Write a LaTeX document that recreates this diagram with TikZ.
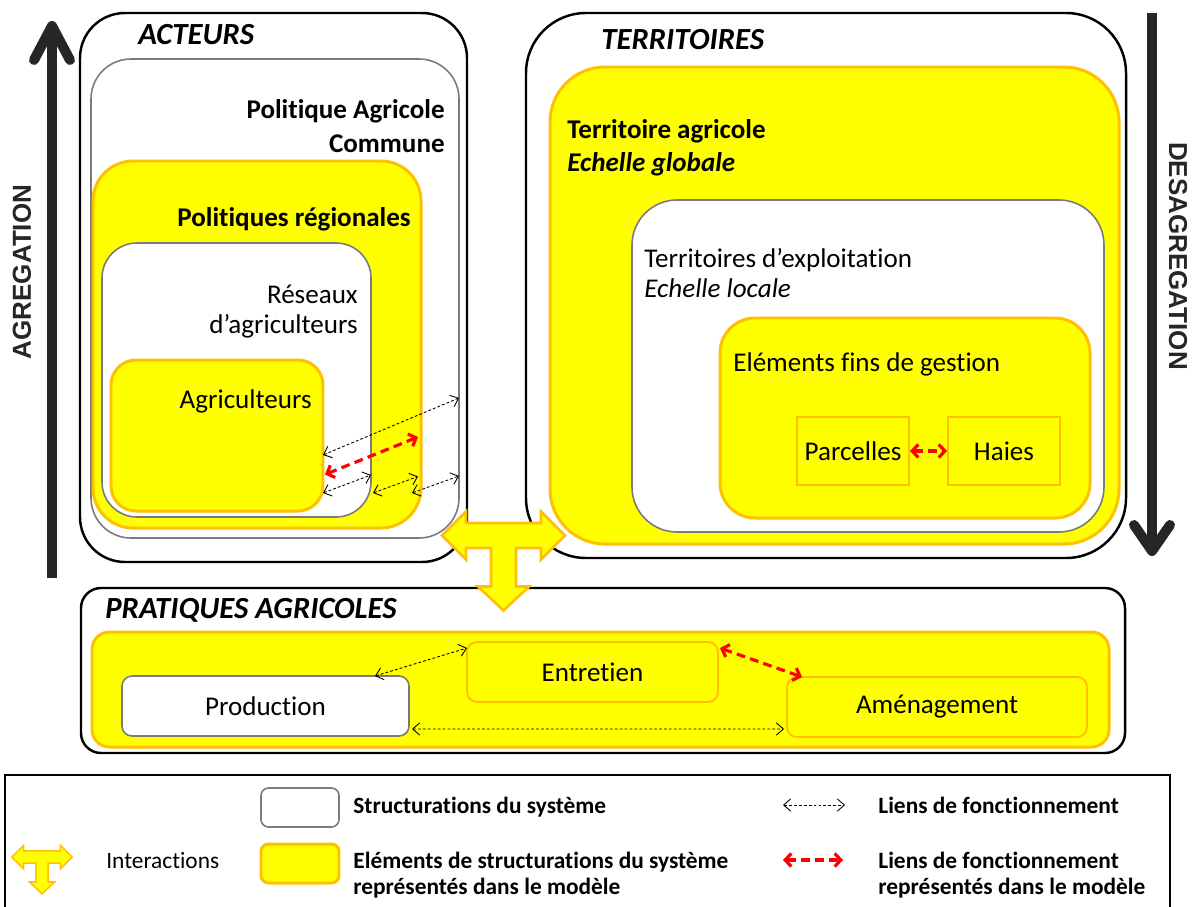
\documentclass[tikz,border=0pt]{standalone}
\usepackage{fontspec}
\setmainfont{Carlito}[Ligatures=NoCommon]
\newfontfamily\arialf{Liberation Sans}
\usetikzlibrary{arrows.meta,calc}
\definecolor{yel}{HTML}{FFFF00}
\definecolor{ora}{HTML}{FFC000}
\definecolor{grb}{HTML}{7A7A7A}
\definecolor{dkar}{HTML}{262626}
\tikzset{
 wh/.style 2 args={minimum width=#1*0.02cm, minimum height=#2*0.02cm, inner sep=0pt, outer sep=0pt},
 blackbox/.style={draw=black, line width=1.4pt, fill=white},
 graybox/.style={draw=grb, line width=0.9pt, fill=white},
 yelbox/.style={draw=ora, line width=1.7pt, fill=yel},
 yelthin/.style={draw=ora, line width=1.1pt, fill=yel},
 lnk/.style={dash pattern=on 1.6pt off 1.2pt, line width=0.5pt, {Straight Barb[length=4pt,width=7pt]}-{Straight Barb[length=4pt,width=7pt]}},
 lnkred/.style={draw=red, line width=1.8pt, dash pattern=on 5pt off 3pt, {Straight Barb[length=3.5pt,width=7.5pt]}-{Straight Barb[length=3.5pt,width=7.5pt]}},
 bigar/.style={draw=dkar, line width=0.2cm},
 rt/.style={inner sep=0pt, font=\fontsize{15.4}{17}\selectfont},
 bt/.style={inner sep=0pt, font=\fontsize{15.4}{19}\selectfont\bfseries},
 ttl/.style={inner sep=0pt, font=\fontsize{17.5}{21}\selectfont\bfseries\itshape},
 lb/.style={inner sep=0pt, font=\fontsize{13.3}{14.6}\selectfont\bfseries},
 lr/.style={inner sep=0pt, font=\fontsize{13.3}{14.6}\selectfont},
 vlab/.style={inner sep=0pt, text=dkar, font=\arialf\bfseries\fontsize{14.8}{16}\selectfont},
 tee/.pic={\path[fill=yel, draw=ora, line join=miter]
   (-61.5,0) -- (-37.5,-24) -- (-37.5,-12.5) -- (37.5,-12.5) -- (37.5,-24) -- (61.5,0)
   -- (37.5,24) -- (37.5,12.5) -- (12.5,12.5) -- (12.5,51) -- (25.5,51) -- (0,75)
   -- (-25.5,51) -- (-12.5,51) -- (-12.5,12.5) -- (-37.5,12.5) -- (-37.5,24) -- cycle;}
}
\begin{document}
\begin{tikzpicture}[x=0.02cm,y=-0.02cm]
\useasboundingbox (0,0) rectangle (1192,906);
\clip (0,0) rectangle (1192,906);
% vertical arrows
\coordinate (agB) at (52,578); \coordinate (agT) at (52,26);
\draw[bigar] (agB) -- (agT);
\draw[bigar, line cap=round, line join=round] (34,60) -- (agT) -- (70,60);
\coordinate (dsT) at (1152,13); \coordinate (dsB) at (1152,551);
\draw[bigar] (dsT) -- (dsB);
\draw[bigar, line cap=round, line join=round] (1134,525) -- (dsB) -- (1170,525);
\node[vlab, rotate=90] (tagr) at (22,272) {AGREGATION};
\node[vlab, rotate=-90] (tdes) at (1178,256) {DESAGREGATION};
% ACTEURS
\node[blackbox, wh={387}{549}, rounded corners=0.9cm] (acteurs) at (273.5,287.5) {};
\node[graybox, wh={368}{479}, rounded corners=0.8cm] (pac) at (275,298.5) {};
\node[yelbox, wh={328}{367}, rounded corners=0.8cm] (preg) at (257,344.5) {};
\node[graybox, wh={269}{274}, rounded corners=0.7cm] (res) at (236.5,380) {};
\node[yelbox, wh={212}{151}, rounded corners=0.5cm] (agri) at (217,435.5) {};
% TERRITOIRES
\node[blackbox, wh={600}{545}, rounded corners=1.2cm] (terr) at (826,285.5) {};
\node[yelbox, wh={569}{477}, rounded corners=1.1cm] (tagri) at (834.5,305.5) {};
\node[graybox, wh={472}{332}, rounded corners=0.9cm] (texp) at (868,366) {};
\node[yelbox, wh={370}{200}, rounded corners=0.7cm] (efg) at (905,418) {};
\node[yelthin, wh={112}{68}] (parc) at (853,451) {};
\node[yelthin, wh={112}{68}] (haies) at (1004,451) {};
% PRATIQUES
\node[blackbox, wh={1044}{165}, rounded corners=0.4cm] (prat) at (603,670.5) {};
\node[yelbox, wh={1017}{115}, rounded corners=0.35cm] (pyel) at (600.5,689.5) {};
\node[graybox, wh={287}{60}, rounded corners=0.2cm] (prod) at (265.5,706) {};
\node[yelthin, wh={251}{60}, rounded corners=0.2cm] (entr) at (592.5,672) {};
\node[yelthin, wh={300}{60}, rounded corners=0.2cm] (amen) at (937,707) {};
% LEGEND
\node[draw=black, line width=1.1pt, wh={1165}{140}] (leg) at (587.5,845) {};
\node[graybox, wh={78}{39}, rounded corners=0.15cm] (legw) at (300,807.5) {};
\node[yelbox, wh={78}{39}, rounded corners=0.15cm] (legy) at (300,863.5) {};
% texts
\node[ttl, anchor=mid west] (tact) at (138,40) {ACTEURS};
\node[bt, anchor=east, align=right] (tpac) at (445,126) {Politique Agricole\\Commune};
\node[bt, anchor=mid east] (tpreg) at (411,222) {Politiques régionales};
\node[rt, anchor=east, align=right] (tres) at (358,312) {Réseaux\\d’agriculteurs};
\node[rt, anchor=mid east] (tagr2) at (312,404) {Agriculteurs};
\node[ttl, anchor=mid west] (tterr) at (601,45) {TERRITOIRES};
\node[bt, anchor=west, align=left, font=\fontsize{15.4}{18.8}\selectfont\bfseries] (ttagri) at (567,148) {Territoire agricole\\\textit{Echelle globale}};
\node[rt, anchor=west, align=left] (ttexp) at (644,273) {Territoires d’exploitation\\\textit{Echelle locale}};
\node[rt, anchor=mid west] (tefg) at (733,367) {Eléments fins de gestion};
\node[rt] (tparc) at (parc.center) {Parcelles};
\node[rt] (thaies) at (haies.center) {Haies};
\node[ttl, anchor=mid west] (tprat) at (105,614) {PRATIQUES AGRICOLES};
\node[rt] (tprod) at (prod.center) {Production};
\node[rt] (tentr) at (entr.center) {Entretien};
\node[rt] (tamen) at (amen.center) {Aménagement};
\node[lr, anchor=mid west] (tint) at (106,864) {Interactions};
\node[lb, anchor=mid west] (tsys) at (353,809) {Structurations du système};
\node[lb, anchor=west, align=left] (telem) at (353,875) {Eléments de structurations du système\\représentés dans le modèle};
\node[lb, anchor=mid west] (tlien) at (878,809) {Liens de fonctionnement};
\node[lb, anchor=west, align=left] (tlien2) at (878,875) {Liens de fonctionnement\\représentés dans le modèle};
% links
\draw[lnk] ([yshift=-0.39cm]agri.east) -- ([yshift=-1.99cm]pac.east);
\draw[lnkred] ([yshift=-0.78cm,xshift=0.04cm]agri.east) -- ([yshift=-1.85cm,xshift=-0.06cm]preg.east);
\draw[lnk] ([yshift=-1.15cm]agri.east) -- ([yshift=-1.9cm]res.east);
\draw[lnk] ([yshift=-2.26cm,xshift=0.04cm]res.east) -- ([yshift=-2.64cm,xshift=-0.06cm]preg.east);
\draw[lnk] ([yshift=-2.97cm,xshift=-0.18cm]preg.east) -- ([yshift=-3.55cm]pac.east);
\draw[lnkred] ([xshift=0.02cm]parc.east) -- ([xshift=-0.02cm]haies.west);
\draw[lnk] ([xshift=2.19cm]prod.north) -- ([yshift=0.48cm]entr.west);
\draw[lnk] ([yshift=-0.46cm,xshift=0.06cm]prod.east) -- ([yshift=-0.44cm,xshift=-0.06cm]amen.west);
\draw[lnkred] ([yshift=0.48cm,xshift=0.04cm]entr.east) -- ([xshift=-2.7cm]amen.north);
\coordinate (l1a) at (783,805); \coordinate (l1b) at (845,805);
\draw[lnk] (l1a) -- (l1b);
\coordinate (l2a) at (783,860); \coordinate (l2b) at (843,860);
\draw[lnkred] (l2a) -- (l2b);
% interactions
\pic[line width=1.5pt] at (503.5,535.5) {tee};
\pic[scale=0.49, line width=0.9pt] at (42,857) {tee};
\end{tikzpicture}
\end{document}
